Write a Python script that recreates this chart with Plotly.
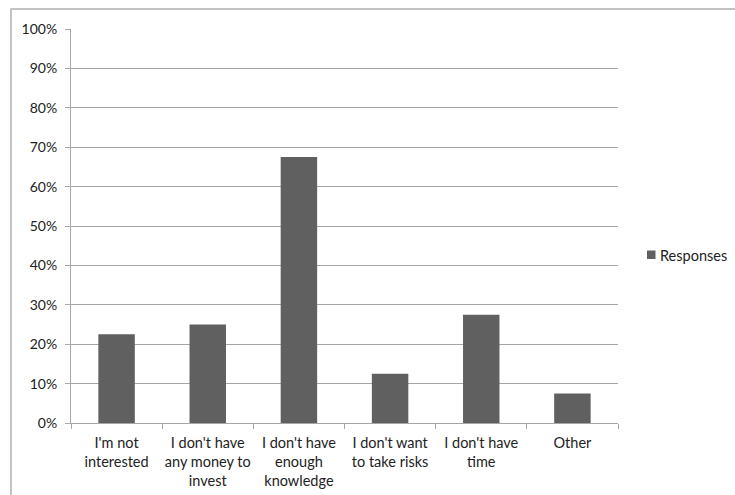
import plotly.graph_objects as go

categories = ["I'm not<br>interested", "I don't have<br>any money to<br>invest",
              "I don't have<br>enough<br>knowledge", "I don't want<br>to take risks",
              "I don't have<br>time", "Other"]
values = [0.225, 0.25, 0.675, 0.125, 0.275, 0.075]
series_name = "Responses"

W, H = 735, 495
L, R, T, B = 71, 618, 29, 423

fig = go.Figure()
fig.add_trace(go.Bar(x=categories, y=values, name=series_name,
                     marker=dict(color="#606060", line=dict(width=0)),
                     showlegend=False))

pw = R - L
ph = B - T
def px(x): return (x - L) / pw
def py(y): return (B - y) / ph

fig.update_layout(
    width=W, height=H,
    margin=dict(l=L, r=W - R, t=T, b=H - B, autoexpand=False),
    paper_bgcolor="white", plot_bgcolor="white",
    bargap=0.6,
    font=dict(family="Lato, Open Sans, sans-serif", size=14, color="#222"),
    showlegend=False,
    xaxis=dict(showgrid=False, showline=True, linecolor="#a6a6a6", linewidth=1,
               ticks="outside", tickson="boundaries", ticklen=5, tickcolor="#a6a6a6",
               tickangle=0, automargin=False, ticklabelstandoff=7,
               tickfont=dict(size=14.5), fixedrange=True),
    yaxis=dict(range=[0, 1], dtick=0.1, tickformat=".0%", showgrid=True,
               gridcolor="#a6a6a6", gridwidth=1, showline=True, linecolor="#a6a6a6",
               linewidth=1, ticks="outside", ticklen=5, tickcolor="#a6a6a6",
               automargin=False, ticklabelstandoff=5,
               tickfont=dict(size=14), zeroline=False, fixedrange=True),
    shapes=[dict(type="rect", xref="paper", yref="paper",
                 x0=px(11), x1=px(760), y0=py(520), y1=py(9),
                 line=dict(color="#b0b0b0", width=1.5), layer="below"),
            dict(type="rect", xref="paper", yref="paper",
                 x0=px(647), x1=px(655.5), y0=py(259), y1=py(250.5),
                 fillcolor="#606060", line=dict(width=0))],
    annotations=[dict(text=series_name, xref="paper", yref="paper",
                      x=px(658), y=py(255.5), xanchor="left", yanchor="middle",
                      showarrow=False, font=dict(size=14.5, color="#222"))],
)

fig.write_html("out.html")
